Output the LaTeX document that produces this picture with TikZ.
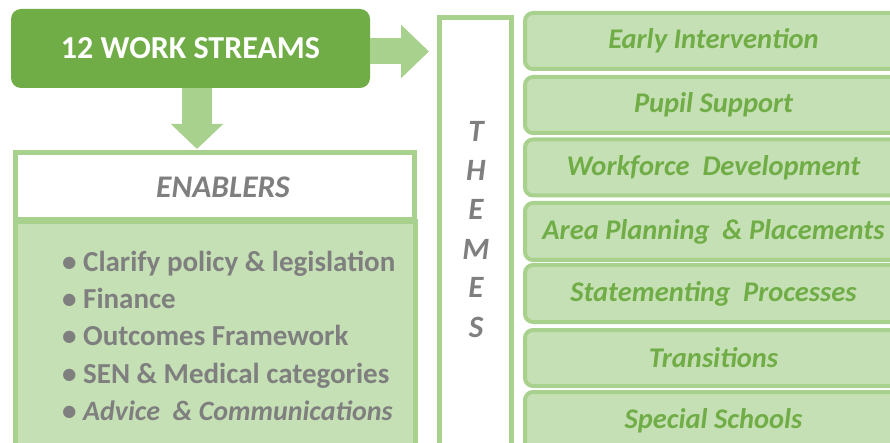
\documentclass[tikz,border=0pt]{standalone}
\usepackage{fontspec}
\setmainfont{Carlito}
\usetikzlibrary{arrows.meta}
\definecolor{darkgreen}{HTML}{70AD47}
\definecolor{lightgreen}{HTML}{A9D18E}
\definecolor{palegreen}{HTML}{C5E0B4}
\definecolor{textgray}{HTML}{7F7F7F}
\begin{document}
\begin{tikzpicture}[x=1pt,y=-1pt,
  header/.style={fill=darkgreen, rounded corners=10pt, text=white,
    font=\fontsize{32}{36}\selectfont\bfseries,
    minimum width=359pt, minimum height=79pt},
  bigarrow/.style={draw=lightgreen, line width=#1},
  frame/.style={draw=lightgreen, line width=5pt, fill=white},
  panel/.style={draw=lightgreen, line width=5pt, fill=palegreen},
  theme/.style={draw=lightgreen, line width=4pt, fill=palegreen,
    rounded corners=8pt, minimum width=377pt, text=darkgreen,
    font=\fontsize{28.5}{32}\selectfont\bfseries\itshape},
  enabler/.style={anchor=base west, text=textgray, inner sep=0pt,
    font=\fontsize{29}{33}\selectfont\bfseries},
  letter/.style={anchor=base, text=textgray, inner sep=0pt,
    font=\fontsize{31}{35}\selectfont\bfseries\itshape}]
  \clip (0,0) rectangle (890,443);
  \node[header] (ws) at (190.5,48.5) {12 WORK STREAMS};
  \node[frame, minimum width=399pt, minimum height=67.5pt] (enablers) at (215,186.25) {};
  \node[text=textgray, font=\fontsize{31.5}{35}\selectfont\bfseries\itshape]
    (enablerslabel) at (223,187) {ENABLERS};
  \node[panel, minimum width=400pt, minimum height=243pt] (list) at (215.5,343.5) {};
  \node[enabler] (e1) at (62,271.5) {• Clarify policy \& legislation};
  \node[enabler] (e2) at (62,308.5) {• Finance};
  \node[enabler] (e3) at (62,345.5) {• Outcomes Framework};
  \node[enabler] (e4) at (62,383) {• SEN \& Medical categories};
  \node[enabler] (e5) at (62,420) {• \textit{\fontsize{28}{32}\selectfont Advice\ \ \& Communications}};
  \node[frame, minimum width=72pt, minimum height=450pt] (themes) at (475.5,242.5) {};
  \foreach \ch [count=\i from 0] in {T,H,E,M,E,S}
    \node[letter] (l\i) at (476,142+39*\i) {\ch};
  \node[theme, minimum height=56pt] (t1) at (713.5,41) {Early Intervention};
  \node[theme, minimum height=56pt] (t2) at (713.5,105) {Pupil Support};
  \node[theme, minimum height=56pt] (t3) at (713.5,167.5) {Workforce\ \ Development};
  \node[theme, minimum height=57pt] (t4) at (713.5,231.5) {Area Planning\ \ \& Placements};
  \node[theme, minimum height=57pt] (t5) at (713.5,293.5) {Statementing\ \ Processes};
  \node[theme, minimum height=56pt] (t6) at (713.5,358) {Transitions};
  \node[theme, minimum height=58pt] (t7) at (713.5,421) {Special Schools};
  \draw[bigarrow=26pt, -{Triangle[length=28pt, width=52pt]}, shorten >=8pt]
    ([yshift=-3pt]ws.east) -- ([yshift=-3pt]ws.east -| themes.west);
  \draw[bigarrow=30pt, -{Triangle[length=25pt, width=51pt]}, shorten >=1pt]
    ([xshift=6.5pt]ws.south) -- ([xshift=6.5pt]ws.south |- enablers.north);
\end{tikzpicture}
\end{document}
